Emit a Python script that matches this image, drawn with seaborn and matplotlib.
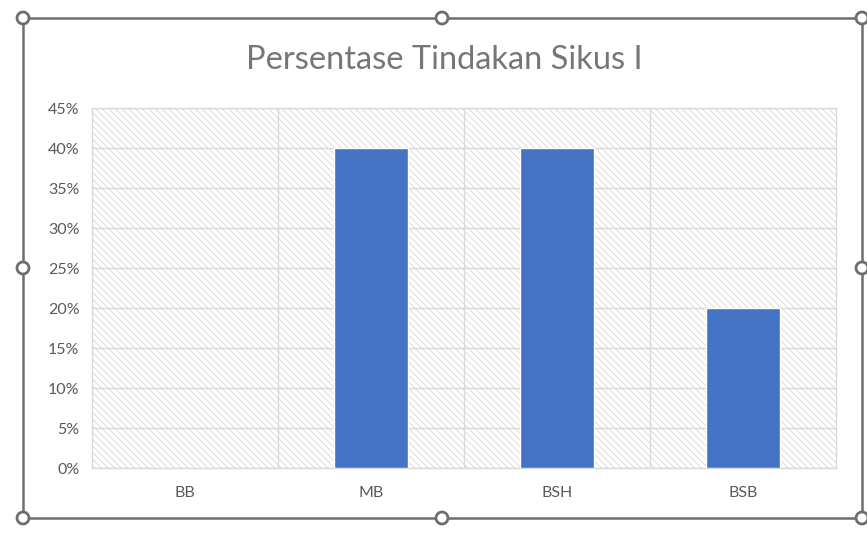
import matplotlib
matplotlib.use("Agg")
import matplotlib.pyplot as plt
import seaborn as sns
import pandas as pd
from matplotlib.patches import Rectangle, Circle
from matplotlib.ticker import FixedLocator, PercentFormatter

categories = ["BB", "MB", "BSH", "BSB"]
values = [0.0, 0.40, 0.40, 0.20]
yticks = [0, 0.05, 0.10, 0.15, 0.20, 0.25, 0.30, 0.35, 0.40, 0.45]
title = "Persentase Tindakan Sikus I"

sns.set_theme(style="white")
plt.rcParams["font.family"] = ["Lato", "DejaVu Sans"]
plt.rcParams["hatch.linewidth"] = 0.6
plt.rcParams["hatch.color"] = "#d6d6d6"

df = pd.DataFrame({"cat": categories, "val": values})

fig = plt.figure(figsize=(8.67, 5.34), dpi=100)
ax = fig.add_axes([92/867, 1-468/534, (836-92)/867, (468-108)/534])

# hatched plot area background
ax.add_patch(Rectangle((0, 0), 1, 1, transform=ax.transAxes, facecolor="white",
                       edgecolor="#d6d6d6", hatch="\\\\\\\\\\", linewidth=0, zorder=0))

sns.barplot(data=df, x="cat", y="val", color="#4472C4", width=0.4,
            saturation=1, ax=ax, zorder=3)

ax.set_xlim(-0.5, len(categories) - 0.5)
ax.set_ylim(0, 0.45)
ax.yaxis.set_major_locator(FixedLocator(yticks))
ax.yaxis.set_major_formatter(PercentFormatter(1.0, decimals=0))
ax.xaxis.set_minor_locator(FixedLocator([i + 0.5 for i in range(len(categories) - 1)]))
ax.grid(True, axis="y", which="major", color="#d9d9d9", linewidth=1, zorder=1)
ax.grid(True, axis="x", which="minor", color="#d9d9d9", linewidth=1, zorder=1)
ax.grid(False, axis="x", which="major")
ax.set_axisbelow(True)
for s in ax.spines.values():
    s.set_color("#d9d9d9")
    s.set_linewidth(1)
ax.tick_params(axis="both", which="both", length=0)
ax.tick_params(axis="y", labelsize=11.5, labelcolor="#595959", pad=9)
ax.tick_params(axis="x", labelsize=11.5, labelcolor="#595959", pad=13)
ax.set_xlabel("")
ax.set_ylabel("")

fig.text(444/867, 1-60/534, title, ha="center", va="center", fontsize=23.5,
         color="#767676")

# selection frame and handles
frame = Rectangle((23/867, 1-518/534), (862-23)/867, (518-18)/534,
                  transform=fig.transFigure, fill=False, edgecolor="#6e6e6e",
                  linewidth=1.8, zorder=10)
fig.patches.append(frame)
handles = [(23, 18), (442, 18), (862, 18), (23, 268), (862, 268),
           (23, 518), (442, 518), (862, 518)]
for hx, hy in handles:
    c = Circle((hx, 534 - hy), 6, transform=None, facecolor="white",
               edgecolor="#6e6e6e", linewidth=2, zorder=11)
    fig.patches.append(c)

fig.savefig("out.png", dpi=100)
